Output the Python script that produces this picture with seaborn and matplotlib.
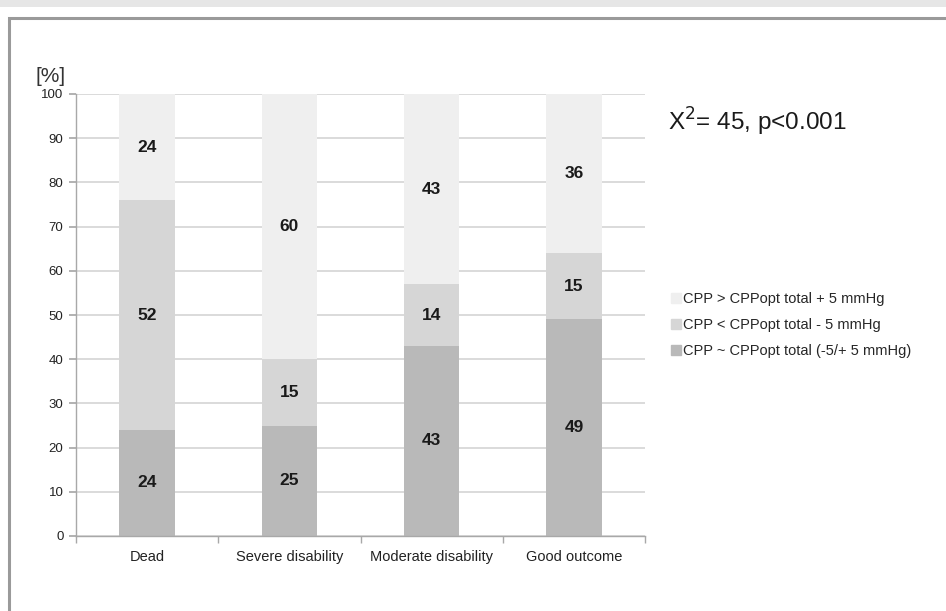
import matplotlib
matplotlib.use("Agg")
import matplotlib.pyplot as plt
from matplotlib.lines import Line2D
from matplotlib.patches import Rectangle
import seaborn as sns
import pandas as pd
import numpy as np

categories = ["Dead", "Severe disability", "Moderate disability", "Good outcome"]
series = ["CPP ~ CPPopt total (-5/+ 5 mmHg)",
          "CPP < CPPopt total - 5 mmHg",
          "CPP > CPPopt total + 5 mmHg"]
near_opt = [24, 25, 43, 49]
below_opt = [52, 15, 14, 15]
above_opt = [24, 60, 43, 36]
colors = ["#b9b9b9", "#d6d6d6", "#efefef"]

sns.set_theme(style="white")
plt.rcParams["font.family"] = ["Liberation Sans", "DejaVu Sans"]

vals = np.array([near_opt, below_opt, above_opt])
tops = vals.cumsum(axis=0)
bottoms = tops - vals

fig = plt.figure(figsize=(9.46, 6.11), dpi=100)
fig.patch.set_facecolor("white")
# outer page background + frame
fig.add_artist(Rectangle((0, 1 - 7 / 611), 1, 7 / 611, transform=fig.transFigure,
                         facecolor="#e6e6e6", edgecolor="none"))
fig.add_artist(Rectangle((9 / 946, -0.05), 1.1, 1 - 18 / 611 + 0.05, transform=fig.transFigure,
                         facecolor="none", edgecolor="#9a9a9a", lw=2.2))

ax = fig.add_axes([76 / 946, 75 / 611, 569 / 946, 442 / 611])

# draw from the top segment down so lower segments cover the taller ones
for i in [2, 1, 0]:
    df = pd.DataFrame({"cat": categories, "val": tops[i]})
    sns.barplot(data=df, x="cat", y="val", color=colors[i], saturation=1,
                width=0.39, linewidth=0, edgecolor="none", ax=ax, zorder=2)

for i in range(3):
    for j in range(len(categories)):
        ax.text(j, bottoms[i][j] + vals[i][j] / 2, str(vals[i][j]), ha="center",
                va="center", fontsize=12.5, fontweight="bold", color="#1a1a1a", zorder=3)

ax.set_xlim(-0.5, 3.5)
ax.set_ylim(0, 100)
ax.set_yticks(range(0, 101, 10))
ax.yaxis.grid(True, color="#d4d4d4", lw=1.2, zorder=0)
ax.set_axisbelow(True)
ax.set_xlabel("")
ax.set_ylabel("")
for s in ["top", "right"]:
    ax.spines[s].set_visible(False)
for s in ["left", "bottom"]:
    ax.spines[s].set_color("#a8a8a8")
    ax.spines[s].set_linewidth(1)
ax.set_xticks(np.arange(-0.5, 4, 1), minor=True)
ax.tick_params(axis="x", which="major", length=0, labelsize=10.5, pad=10, colors="#222222")
ax.tick_params(axis="x", which="minor", length=5, color="#a8a8a8", direction="out", bottom=True)
ax.tick_params(axis="y", length=5, color="#a8a8a8", direction="out", left=True,
               labelsize=9.5, labelcolor="#222222", pad=4)

fig.text(35 / 946, 1 - 76 / 611, "[%]", fontsize=15, color="#333333", va="center")
fig.text(668 / 946, 1 - 122 / 611, "X$^2$= 45, p<0.001", fontsize=17.5,
         color="#1a1a1a", va="center")

handles = [Line2D([], [], marker="s", ls="", markersize=7, color=colors[i]) for i in [2, 1, 0]]
labels = [series[i] for i in [2, 1, 0]]
fig.legend(handles, labels, loc="center left", bbox_to_anchor=(661 / 946, 1 - 325 / 611),
           frameon=False, fontsize=10.5, handletextpad=0.0, labelspacing=0.85,
           handlelength=1.0, borderpad=0)

fig.savefig("out.png", dpi=100)
